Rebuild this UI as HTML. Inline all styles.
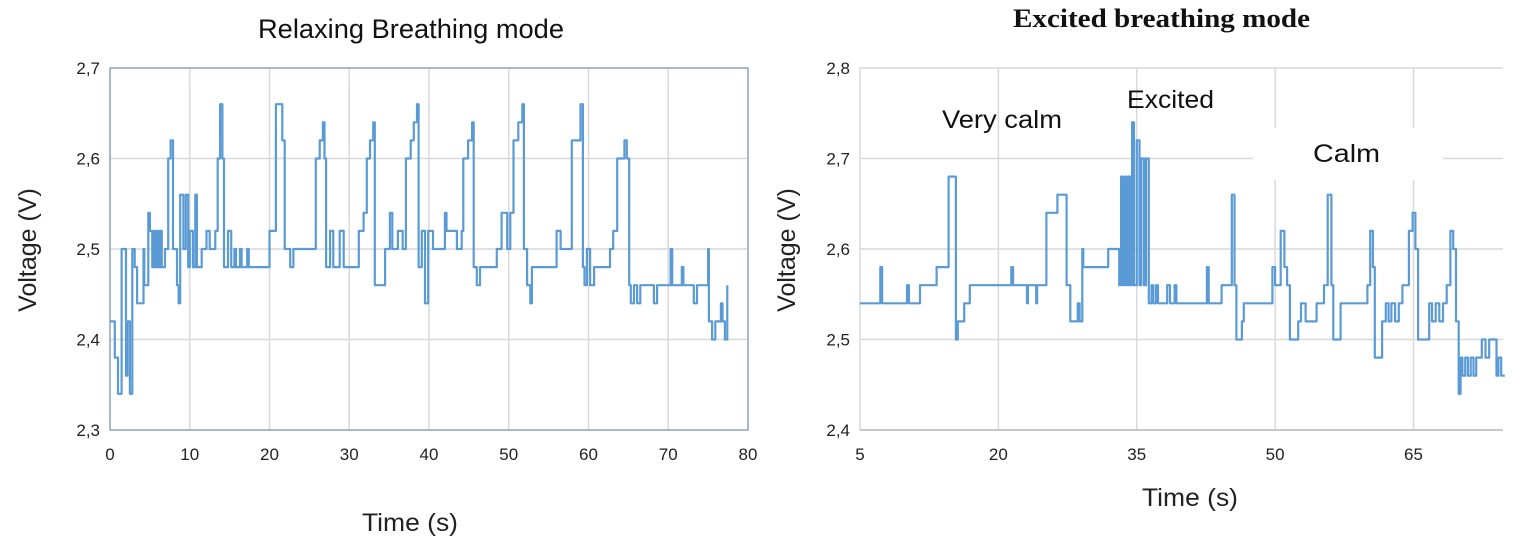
<!DOCTYPE html>
<html><head><meta charset="utf-8"><style>
body{margin:0;background:#fff;width:1520px;height:542px;overflow:hidden}
svg{display:block}
</style></head><body>
<svg id="chart" width="1520" height="542" font-family="Liberation Sans, sans-serif"></svg>
<script>
// Left chart data (time s, voltage V)
const leftT=[0,0.6,1.0,1.25,1.46,1.67,2.0,2.2,2.5,2.8,3.1,3.4,4.2,4.3,4.5,4.8,5.0,5.3,5.5,5.7,5.9,6.1,6.3,6.5,6.9,7.3,7.6,7.9,8.4,8.6,8.8,9.2,9.5,9.8,10.0,10.4,10.7,10.9,11.5,12.1,12.5,13.2,13.5,13.8,14.1,14.3,14.8,15.2,15.6,15.8,16.3,16.5,17.2,17.4,19.6,20.0,20.8,21.5,21.6,21.9,22.6,23.0,25.5,25.8,26.3,26.7,26.9,27.1,27.6,28.0,28.8,29.3,30.5,31.2,31.8,32.2,32.6,33.0,33.2,34.2,34.5,35.1,35.4,36.1,36.7,37.1,37.7,38.1,38.5,38.7,39.1,39.5,39.9,40.5,41.4,42.0,42.2,43.5,44.1,44.3,44.9,45.4,45.6,46.0,46.4,48.1,48.5,49.1,49.8,50.2,50.6,51.2,51.7,51.9,52.3,52.7,52.9,55.6,56.0,56.5,57.3,57.9,58.6,59.0,59.3,59.5,59.8,60.2,60.7,62.7,63.1,63.6,64.2,64.5,64.8,65.1,65.3,65.7,66.1,66.5,67.4,68.2,68.6,70.1,70.3,70.5,71.7,71.9,73.2,73.6,74.7,75.0,75.1,75.5,75.9,76.6,76.8,77.1,77.4];
const leftV=[2.42,2.38,2.34,2.34,2.5,2.5,2.36,2.42,2.34,2.5,2.48,2.44,2.5,2.46,2.46,2.54,2.52,2.48,2.52,2.48,2.52,2.48,2.52,2.48,2.5,2.6,2.62,2.5,2.46,2.44,2.56,2.5,2.56,2.48,2.52,2.48,2.56,2.48,2.5,2.52,2.5,2.52,2.6,2.66,2.6,2.48,2.52,2.48,2.5,2.48,2.5,2.48,2.5,2.48,2.48,2.52,2.66,2.66,2.62,2.5,2.48,2.5,2.5,2.6,2.62,2.64,2.6,2.48,2.52,2.48,2.52,2.48,2.48,2.52,2.54,2.6,2.62,2.64,2.46,2.46,2.5,2.54,2.5,2.52,2.5,2.6,2.62,2.64,2.66,2.48,2.52,2.44,2.52,2.5,2.5,2.54,2.52,2.5,2.52,2.6,2.62,2.64,2.48,2.46,2.48,2.48,2.5,2.54,2.5,2.54,2.62,2.64,2.66,2.5,2.46,2.44,2.48,2.48,2.52,2.5,2.5,2.62,2.62,2.66,2.48,2.46,2.5,2.46,2.48,2.5,2.52,2.6,2.6,2.62,2.6,2.46,2.44,2.46,2.44,2.46,2.46,2.44,2.46,2.46,2.5,2.46,2.48,2.46,2.44,2.46,2.46,2.5,2.42,2.4,2.42,2.44,2.42,2.4,2.46];
// Right chart data
const rightT=[5,7,7.2,7.4,10,10.1,10.3,11.5,13,13.3,14.4,14.6,15.2,15.4,15.6,16,16.3,16.9,21.3,21.4,21.6,23,23.1,23.2,24,24.1,24.2,24.7,25.2,25.6,26.4,27.1,27.4,27.8,28.3,28.6,28.8,29,29.1,29.2,31.8,31.9,32.9,33.1,33.3,33.5,33.7,33.9,34.1,34.3,34.5,34.7,35,35.3,35.5,35.8,36,36.3,36.6,36.8,37.1,37.3,37.6,38,38.3,38.6,39,39.1,39.3,42.5,42.6,42.8,44.2,44.8,45.3,45.6,45.8,46.2,46.4,46.6,46.9,49.6,49.7,50,50.4,50.6,51,51.3,51.6,51.8,52.5,52.8,53.3,54.5,55,55.3,55.7,56.1,56.3,56.8,57.1,57.5,59.7,60,60.3,60.6,60.8,61.3,61.6,62,62.3,62.6,63,63.4,63.8,64.1,64.5,64.9,65.2,65.5,66.4,66.7,67,67.4,67.8,68.2,68.6,69,69.3,69.6,69.9,70.1,70.3,70.6,70.9,71.2,71.5,71.8,72.1,72.4,72.8,73.2,73.5,74,74.2,74.5,74.9];
const rightV=[2.54,2.54,2.58,2.54,2.54,2.56,2.54,2.56,2.56,2.58,2.58,2.68,2.68,2.5,2.52,2.52,2.54,2.56,2.56,2.58,2.56,2.56,2.54,2.56,2.56,2.54,2.56,2.56,2.64,2.64,2.66,2.66,2.56,2.52,2.52,2.54,2.52,2.52,2.6,2.58,2.58,2.6,2.6,2.56,2.68,2.56,2.68,2.56,2.68,2.56,2.74,2.56,2.72,2.56,2.7,2.56,2.7,2.54,2.56,2.54,2.56,2.54,2.54,2.54,2.56,2.54,2.54,2.56,2.54,2.54,2.58,2.54,2.56,2.56,2.66,2.56,2.5,2.5,2.52,2.54,2.54,2.54,2.58,2.56,2.56,2.62,2.58,2.56,2.5,2.5,2.52,2.54,2.52,2.54,2.54,2.56,2.66,2.56,2.5,2.5,2.54,2.54,2.54,2.56,2.62,2.58,2.48,2.48,2.52,2.54,2.52,2.54,2.52,2.54,2.56,2.56,2.62,2.64,2.6,2.5,2.5,2.54,2.52,2.54,2.52,2.54,2.56,2.62,2.6,2.52,2.44,2.48,2.46,2.48,2.46,2.48,2.46,2.48,2.48,2.5,2.48,2.5,2.5,2.46,2.48,2.46];
const leftXTicks=[0,10,20,30,40,50,60,70,80];
const leftYTicks=[2.3,2.4,2.5,2.6,2.7];
const rightXTicks=[5,20,35,50,65];
const rightYTicks=[2.4,2.5,2.6,2.7,2.8];

const svg=document.getElementById('chart');
const NS='http://www.w3.org/2000/svg';
function mk(tag,attrs,parent){const e=document.createElementNS(NS,tag);for(const k in attrs)e.setAttribute(k,attrs[k]);(parent||svg).appendChild(e);return e;}
function fmt(v){return (Math.round(v*10)/10).toFixed(1).replace('.',',');}

function chart(o){
  const g=mk('g',{});
  
  
  const sx=t=>o.x0+(t-o.tmin)/(o.tmax-o.tmin)*(o.x1-o.x0);
  const sy=v=>o.y1-(v-o.vmin)/(o.vmax-o.vmin)*(o.y1-o.y0);
  o.xTicks.forEach(t=>{
    const l=mk('line',{x1:sx(t),x2:sx(t),y1:o.y0,y2:o.y1,stroke:'#d9d9d9','stroke-width':1.5},g);
    
    
    const tx=mk('text',{x:sx(t),y:o.y1+30,'text-anchor':'middle','font-size':17,fill:'#222'},g);
    tx.textContent=t;
    
    
  });
  o.yTicks.forEach(v=>{
    const l=mk('line',{x1:o.x0,x2:o.x1,y1:sy(v),y2:sy(v),stroke:'#d9d9d9','stroke-width':1.5},g);
    
    
    const tx=mk('text',{x:o.x0-10,y:sy(v)+6,'text-anchor':'end','font-size':17,fill:'#222'},g);
    tx.textContent=fmt(v);
    
    
  });
  if(o.border){const b=mk('rect',{x:o.x0,y:o.y0,width:o.x1-o.x0,height:o.y1-o.y0,fill:'none',stroke:'#8faabc','stroke-width':1.5},g);
    }
  else{const b=mk('line',{x1:o.x0,x2:o.x1,y1:o.y1,y2:o.y1,stroke:'#c8c8c8','stroke-width':2},g);
    }
  (o.boxes||[]).forEach(bx=>{const r=mk('rect',{x:bx[0],y:bx[1],width:bx[2],height:bx[3],fill:'#fff'},g);
    });
  let d='M'+sx(o.T[0]).toFixed(1)+','+sy(o.V[0]).toFixed(1);
  for(let i=1;i<o.T.length;i++){d+=' H'+sx(o.T[i]).toFixed(1)+' V'+sy(o.V[i]).toFixed(1);}
  const p=mk('path',{d:d,fill:'none',stroke:'#5b9bd5','stroke-width':2.2,'stroke-linejoin':'round'},g);
  
  
}
chart({name:'relaxing-chart',x0:110,x1:748,y0:68,y1:430,tmin:0,tmax:80,vmin:2.3,vmax:2.7,T:leftT,V:leftV,xTicks:leftXTicks,yTicks:leftYTicks,border:true});
chart({name:'excited-chart',x0:860,x1:1503,y0:68,y1:430,tmin:5,tmax:74.7,vmin:2.4,vmax:2.8,T:rightT,V:rightV,xTicks:rightXTicks,yTicks:rightYTicks,border:false,boxes:[[1253,128,190,52]]});
</script>
<svg width="1520" height="542" style="position:absolute;left:0;top:0">
<text x="258" y="38" textLength="306" lengthAdjust="spacingAndGlyphs" font-size="27" font-family="Liberation Sans, sans-serif" fill="#111">Relaxing Breathing mode</text>
<text x="1013" y="27" textLength="297" lengthAdjust="spacingAndGlyphs" font-size="26" font-weight="bold" font-family="Liberation Serif, serif" fill="#111">Excited breathing mode</text>
<text x="362" y="531" textLength="96" lengthAdjust="spacingAndGlyphs" font-size="25" font-family="Liberation Sans, sans-serif" fill="#222">Time (s)</text>
<text x="1142" y="506" textLength="96" lengthAdjust="spacingAndGlyphs" font-size="25" font-family="Liberation Sans, sans-serif" fill="#222">Time (s)</text>
<text transform="translate(36,250) rotate(-90)" text-anchor="middle" font-size="25" font-family="Liberation Sans, sans-serif" fill="#222">Voltage (V)</text>
<text transform="translate(795,250) rotate(-90)" text-anchor="middle" font-size="25" font-family="Liberation Sans, sans-serif" fill="#222">Voltage (V)</text>
<text x="942" y="128" textLength="120" lengthAdjust="spacingAndGlyphs" font-size="25" font-family="Liberation Sans, sans-serif" fill="#111">Very calm</text>
<text x="1127" y="108" textLength="87" lengthAdjust="spacingAndGlyphs" font-size="25" font-family="Liberation Sans, sans-serif" fill="#111">Excited</text>
<text x="1313" y="162" textLength="67" lengthAdjust="spacingAndGlyphs" font-size="25" font-family="Liberation Sans, sans-serif" fill="#111">Calm</text>
</svg>
</body></html>
